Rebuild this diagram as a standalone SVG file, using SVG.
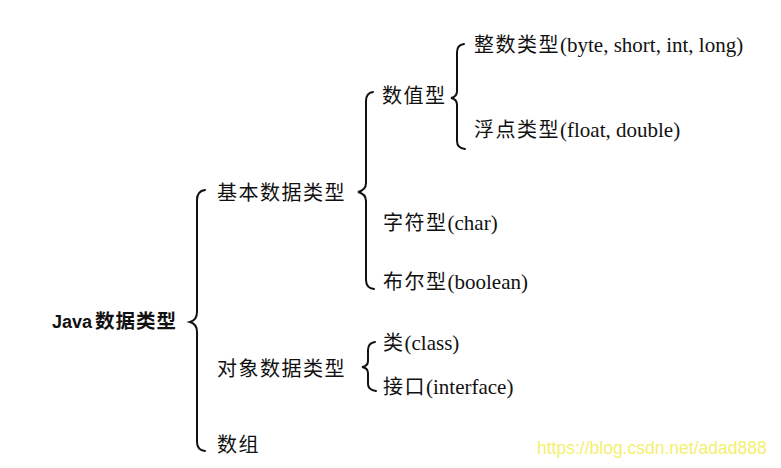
<svg xmlns="http://www.w3.org/2000/svg" width="781" height="468" viewBox="0 0 781 468">
<style>
.t{font-family:"Liberation Serif","Noto Sans CJK SC",serif;font-size:21px;fill:#111}
.c{letter-spacing:1.5px;font-size:20px}
.b{fill:none;stroke:#111;stroke-width:2;stroke-linecap:round}
.w{font-family:"Liberation Sans","Noto Sans",sans-serif;font-size:17.5px;fill:#f5ef6e}
</style>
<rect width="781" height="468" fill="#fff"/>
<g id="connectors">
<path class="b" d="M205,190 Q197,191 197,200 L197,312 Q197,320 190,322 Q197,324 197,332 L197,442 Q197,450 205,451"/>
<path class="b" d="M373,92 Q366,93 366,101 L366,183 Q366,190 358,192 Q366,194 366,201 L366,280 Q366,288 374,289"/>
<path class="b" d="M464,44 Q457,45 457,52 L457,91 Q457,97 451,98 Q457,99 457,105 L457,141 Q457,148 465,149"/>
<path class="b" d="M375,342 Q368,343 368,350 L368,361 Q368,366 362,367 Q368,368 368,373 L368,384 Q368,390 376,391"/>
</g>
<g id="root"><text class="t" x="52" y="328"><tspan font-family="Liberation Sans,sans-serif" font-size="18" font-weight="600">Java</tspan><tspan font-weight="600" font-size="19.5" letter-spacing="1" dx="3">数据类型</tspan></text></g>
<g id="basic"><text class="t c" x="217" y="200">基本数据类型</text></g>
<g id="numeric"><text class="t c" x="382" y="103">数值型</text></g>
<g id="integer"><text class="t" x="474" y="52"><tspan class="c">整数类型</tspan>(byte, short, int, long)</text></g>
<g id="float"><text class="t" x="474" y="137"><tspan class="c">浮点类型</tspan>(float, double)</text></g>
<g id="char"><text class="t" x="383" y="230"><tspan class="c">字符型</tspan>(char)</text></g>
<g id="boolean"><text class="t" x="383" y="289"><tspan class="c">布尔型</tspan>(boolean)</text></g>
<g id="object"><text class="t c" x="217" y="376">对象数据类型</text></g>
<g id="class"><text class="t" x="383" y="350"><tspan class="c">类</tspan>(class)</text></g>
<g id="interface"><text class="t" x="383" y="394"><tspan class="c">接口</tspan>(interface)</text></g>
<g id="array"><text class="t c" x="217" y="452">数组</text></g>
<text class="w" x="537" y="454">https://blog.csdn.net/adad888</text>
</svg>
